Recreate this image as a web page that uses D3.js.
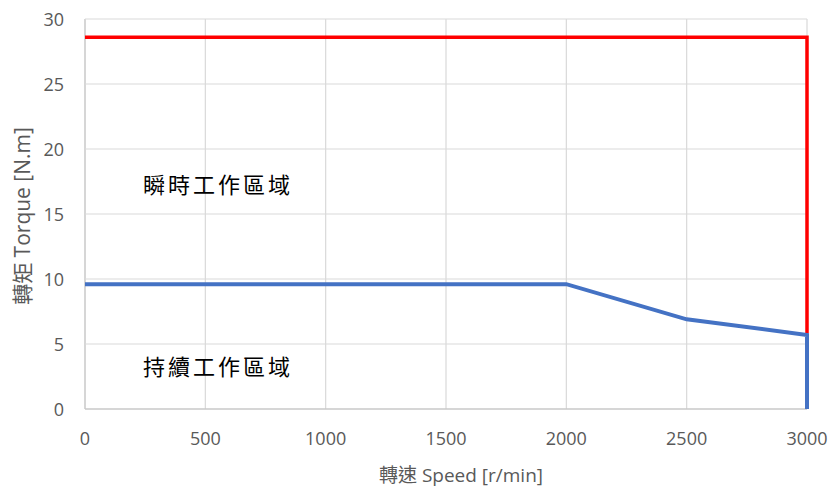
<!DOCTYPE html>
<html>
<head>
<meta charset="utf-8">
<script src="https://cdn.jsdelivr.net/npm/d3@7"></script>
<style>
  body { margin: 0; background: #fff; }
  text { font-family: "Open Sans", "Noto Sans CJK TC", sans-serif; }
</style>
</head>
<body>
<div id="chart"></div>
<script>
// data
var speedTicks = [0, 500, 1000, 1500, 2000, 2500, 3000];
var torqueTicks = [0, 5, 10, 15, 20, 25, 30];

var peakSpeed = [0, 3000, 3000];
var peakTorque = [28.6, 28.6, 5.8];

var contSpeed = [0, 2000, 2500, 3000, 3000];
var contTorque = [9.6, 9.6, 6.9, 5.7, 0];

var zoneLabels = ['瞬時工作區域', '持續工作區域'];
var zoneTorque = [17, 3];

var dim = {
    'width': 831,
    'height': 492
};
var m = { left: 85, right: 24, top: 19, bottom: 83 };

var svg = d3.select('#chart').append('svg')
    .attr('width', dim.width)
    .attr('height', dim.height);

var x = d3.scaleLinear()
    .domain([0, 3000])
    .range([m.left, dim.width - m.right]);

var y = d3.scaleLinear()
    .domain([0, 30])
    .range([dim.height - m.bottom, m.top]);

var grid = svg.append('g').attr('id', 'grid');

grid.selectAll('line.v')
    .data(speedTicks).enter()
    .append('line')
    .attr('class', 'v')
    .attr('x1', d => x(d)).attr('x2', d => x(d))
    .attr('y1', y(0)).attr('y2', y(30))
    .attr('stroke', d => d === 0 ? '#c8c8c8' : '#d9d9d9')
    .attr('stroke-width', d => d === 0 ? 1.5 : 1.2);

grid.selectAll('line.h')
    .data(torqueTicks).enter()
    .append('line')
    .attr('class', 'h')
    .attr('x1', x(0)).attr('x2', x(3000))
    .attr('y1', d => y(d)).attr('y2', d => y(d))
    .attr('stroke', d => d === 0 ? '#c8c8c8' : '#d9d9d9')
    .attr('stroke-width', d => d === 0 ? 1.5 : 1.2);

// tick labels
svg.append('g').selectAll('text')
    .data(speedTicks).enter()
    .append('text')
    .attr('x', d => x(d))
    .attr('y', y(0) + 36)
    .attr('text-anchor', 'middle')
    .attr('font-size', 18)
    .attr('fill', '#595959')
    .text(d => d);

svg.append('g').selectAll('text')
    .data(torqueTicks).enter()
    .append('text')
    .attr('x', 64)
    .attr('y', d => y(d) + 6.5)
    .attr('text-anchor', 'end')
    .attr('font-size', 18)
    .attr('fill', '#595959')
    .text(d => d);

// axis titles
svg.append('text')
    .attr('x', 461)
    .attr('y', 482)
    .attr('text-anchor', 'middle')
    .attr('font-size', 19)
    .attr('fill', '#595959')
    .text('轉速 Speed [r/min]');

svg.append('text')
    .attr('transform', 'translate(30,216) rotate(-90)')
    .attr('text-anchor', 'middle')
    .attr('font-size', 21)
    .attr('fill', '#595959')
    .text('轉矩 Torque [N.m]');

var line = d3.line()
    .x(d => x(d[0]))
    .y(d => y(d[1]));

svg.append('path')
    .datum(d3.zip(peakSpeed, peakTorque))
    .attr('d', line)
    .attr('fill', 'none')
    .attr('stroke', '#ff0000')
    .attr('stroke-width', 3.5);

svg.append('path')
    .datum(d3.zip(contSpeed, contTorque))
    .attr('d', line)
    .attr('fill', 'none')
    .attr('stroke', '#4472c4')
    .attr('stroke-width', 4);

// zone labels
svg.append('g').selectAll('text')
    .data(zoneLabels).enter()
    .append('text')
    .attr('x', 143)
    .attr('y', (d, i) => y(zoneTorque[i]) + 5)
    .attr('font-size', 22)
    .attr('letter-spacing', 3)
    .attr('fill', '#000')
    .style('font-family', '"Noto Sans CJK TC", sans-serif')
    .text(d => d);
</script>
</body>
</html>
